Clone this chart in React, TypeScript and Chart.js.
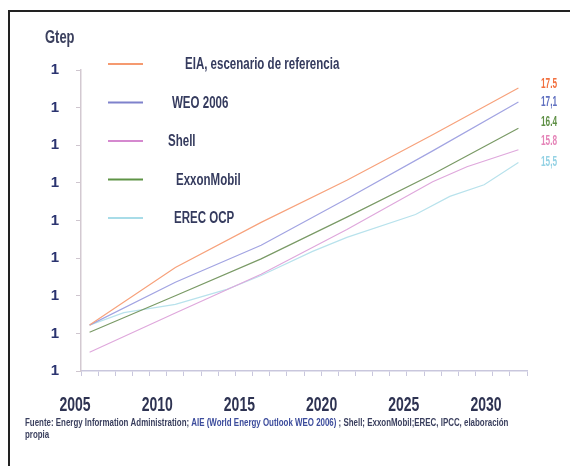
import React, { useEffect, useRef } from 'react';
import { Chart, registerables } from 'chart.js';

Chart.register(...registerables);

// ---------- data ----------
const YEARS = [
  '2005', '2006', '2007', '2008', '2009', '2010', '2011', '2012', '2013',
  '2014', '2015', '2016', '2017', '2018', '2019', '2020', '2021', '2022',
  '2023', '2024', '2025', '2026', '2027', '2028', '2029', '2030',
];
const YEAR_LABELS = ['2005', '2010', '2015', '2020', '2025', '2030'];
const Y_TICK_TEXT = '1';
const UNIT = 'Gtep';
const SERIES_NAMES = [
  'EIA, escenario de referencia',
  'WEO 2006',
  'Shell',
  'ExxonMobil',
  'EREC OCP',
];
const END_LABELS = ['17.5', '17,1', '16.4', '15.8', '15,5'];

const _ = null;
const EIA = [11.22, _, _, _, _, 12.75, _, _, _, _, 13.95, _, _, _, _, 15.07, _, _, _, _, 16.28, _, _, _, _, 17.52];
const WEO = [11.22, _, _, _, _, 12.36, _, _, _, _, 13.34, _, _, _, _, 14.58, _, _, _, _, 15.85, _, _, _, _, 17.15];
const SHELL = [10.5, _, _, _, _, 11.54, _, _, _, _, 12.57, _, _, _, _, 13.76, _, _, _, _, 15.03, _, 15.43, _, _, 15.88];
const EXXON = [11.03, _, _, _, _, 12.0, _, _, _, _, 12.98, _, _, _, _, 14.09, _, _, _, _, 15.23, _, _, _, _, 16.45];
const EREC = [11.22, _, 11.55, _, _, 11.77, _, _, 12.17, _, 12.54, _, _, 13.18, _, 13.55, _, _, _, 14.16, _, 14.64, _, 14.95, _, 15.54];

const FOOT_A = 'Fuente: Energy Information Administration; ';
const FOOT_B = 'AIE (World Energy Outlook WEO 2006)';
const FOOT_C = ' ; Shell; ExxonMobil;EREC, IPCC, elaboración';
const FOOT_D = 'propia';

// ---------- styles ----------
const LINE_COLORS = ['#f7a27c', '#a2a4e2', '#dfa8dc', '#7a9a66', '#b8e2ec'];
const LEGEND_COLORS = ['#f59a70', '#7f82cc', '#d589cf', '#5f9446', '#a8dce8'];
const END_COLORS = ['#f2703f', '#6070c0', '#5f9046', '#e584b8', '#94d2e4'];
const TEXT_DARK = '#353b5e';
const FONT = '"Liberation Sans", Arial, sans-serif';

function condText(
  ctx: CanvasRenderingContext2D,
  text: string,
  x: number,
  y: number,
  font: string,
  color: string,
  sx: number,
  align: CanvasTextAlign = 'left'
) {
  ctx.save();
  ctx.font = font;
  ctx.fillStyle = color;
  ctx.textBaseline = 'middle';
  ctx.textAlign = align;
  ctx.translate(x, y);
  ctx.scale(sx, 1);
  ctx.fillText(text, 0, 0);
  ctx.restore();
}

const decorPlugin = {
  id: 'decor',
  afterDraw(chart: any) {
    const ctx: CanvasRenderingContext2D = chart.ctx;

    // frame
    ctx.save();
    ctx.strokeStyle = '#222';
    ctx.lineWidth = 2;
    ctx.beginPath();
    ctx.moveTo(9, chart.height);
    ctx.lineTo(9, 11);
    ctx.lineTo(chart.width, 11);
    ctx.stroke();
    ctx.restore();

    // unit
    condText(ctx, UNIT, 45, 38, `bold 18px ${FONT}`, '#3b405e', 0.72);

    // legend
    SERIES_NAMES.forEach((name, i) => {
      const y = 64 + i * 38.5;
      ctx.save();
      ctx.strokeStyle = LEGEND_COLORS[i];
      ctx.lineWidth = 2;
      ctx.beginPath();
      ctx.moveTo(108, y);
      ctx.lineTo(143, y);
      ctx.stroke();
      ctx.restore();
      const tx = [185, 172, 168, 176, 174][i];
      condText(ctx, name, tx, y + 1, `bold 16px ${FONT}`, TEXT_DARK, 0.72);
    });

    // end labels
    const endY = [84, 102, 122, 141, 162];
    END_LABELS.forEach((t, i) => {
      condText(ctx, t, 549, endY[i], `bold 15px ${FONT}`, END_COLORS[i], 0.55, 'center');
    });

    // year labels
    YEAR_LABELS.forEach((t, k) => {
      condText(ctx, t, 75 + k * 82.2, 405, `bold 20px ${FONT}`, '#2e3352', 0.7, 'center');
    });

    // footnote
    ctx.save();
    const fs = 11;
    const sx = 0.72;
    const f = `bold ${fs}px ${FONT}`;
    ctx.font = f;
    let x = 25;
    const y1 = 423;
    const parts: [string, string][] = [
      [FOOT_A, '#3a3f5e'],
      [FOOT_B, '#3c4c9c'],
      [FOOT_C, '#3a3f5e'],
    ];
    parts.forEach(([t, c]) => {
      condText(ctx, t, x, y1, f, c, sx);
      x += ctx.measureText(t).width * sx;
    });
    condText(ctx, FOOT_D, 25, 435, f, '#3a3f5e', sx);
    ctx.restore();
  },
};

export default function App() {
  const ref = useRef<HTMLCanvasElement | null>(null);

  useEffect(() => {
    if (!ref.current) return;
    const series = [EIA, WEO, SHELL, EXXON, EREC];
    const chart = new Chart(ref.current, {
      type: 'line',
      data: {
        labels: YEARS,
        datasets: series.map((d, i) => ({
          label: SERIES_NAMES[i],
          data: d,
          borderColor: LINE_COLORS[i],
          backgroundColor: LINE_COLORS[i],
          borderWidth: 1.2,
          pointRadius: 0,
          tension: 0,
          spanGaps: true,
          fill: false,
        })),
      },
      options: {
        animation: false,
        responsive: true,
        maintainAspectRatio: false,
        layout: { padding: { left: 0, top: 70, right: 43, bottom: 0 } },
        plugins: {
          legend: { display: false },
          tooltip: { enabled: false },
          title: { display: false },
        },
        scales: {
          x: {
            type: 'category',
            offset: true,
            grid: {
              display: true,
              drawOnChartArea: false,
              drawTicks: true,
              tickLength: 5,
              offset: true,
              color: '#c9c7dd',
              lineWidth: 1,
            },
            border: { display: true, color: '#c9c7dd', width: 1.5 },
            ticks: { display: false },
            afterFit: (s: any) => {
              s.height = 95;
            },
          },
          y: {
            min: 10,
            max: 18,
            ticks: {
              stepSize: 1,
              padding: 17,
              color: '#2b3470',
              font: { family: FONT, size: 15, weight: 'bold' },
              callback: () => Y_TICK_TEXT,
            },
            grid: {
              display: true,
              drawOnChartArea: false,
              drawTicks: true,
              tickLength: 5,
              color: '#cfc6cf',
            },
            border: { display: true, color: '#d3c9d1', width: 1.5 },
            afterFit: (s: any) => {
              s.width = 81;
            },
          },
        },
      },
      plugins: [decorPlugin],
    } as any);
    return () => chart.destroy();
  }, []);

  return (
    <div style={{ position: 'fixed', left: 0, top: 0, width: 570, height: 466, background: '#fff' }}>
      <canvas ref={ref} />
    </div>
  );
}
